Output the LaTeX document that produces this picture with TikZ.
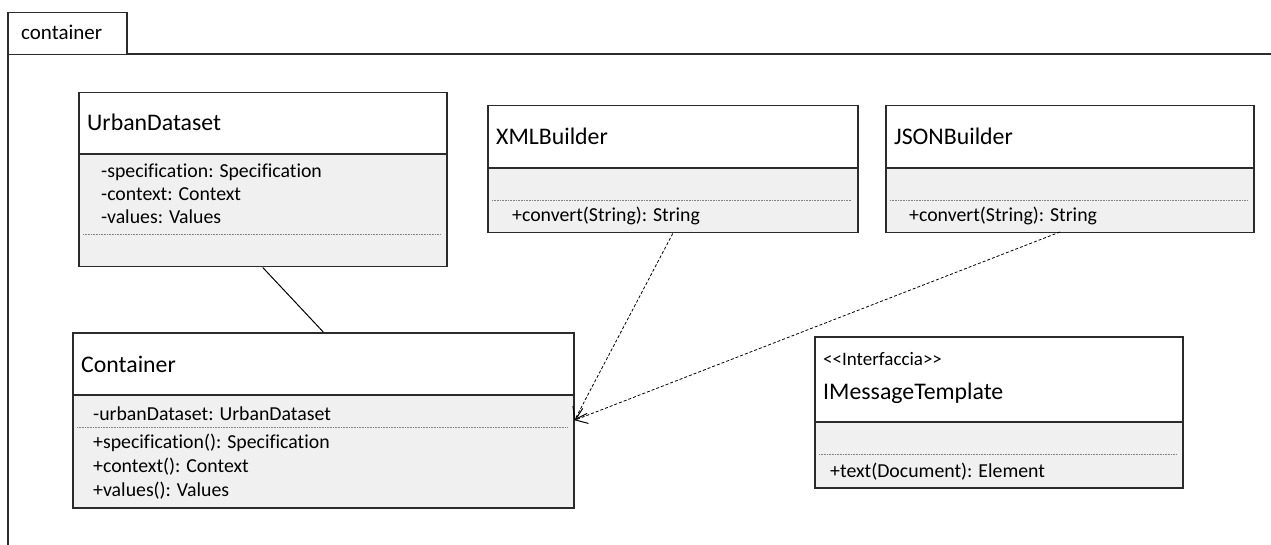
\documentclass[tikz,border=0pt]{standalone}
\usepackage{fontspec}
\setmainfont{Carlito}[Ligatures={NoCommon}]
\usetikzlibrary{arrows.meta}
\definecolor{boxline}{HTML}{2B2B2B}
\definecolor{compgray}{HTML}{F0F0F0}
\definecolor{sepgray}{HTML}{808080}
\tikzset{
  classbox/.style={draw=boxline, line width=1.5pt, inner sep=0pt, anchor=north west},
  compfill/.style={fill=compgray},
  divider/.style={draw=boxline, line width=1.5pt},
  sepline/.style={draw=sepgray, line width=0.8pt, dash pattern=on 1pt off 0.6pt},
  titletext/.style={anchor=base west, inner sep=0pt, font=\fontsize{23.8}{28}\selectfont},
  membertext/.style={anchor=base west, inner sep=0pt, font=\fontsize{19.8}{23}\selectfont},
  stereotext/.style={anchor=base west, inner sep=0pt, font=\fontsize{19}{22}\selectfont},
  tabtext/.style={anchor=base west, inner sep=0pt, font=\fontsize{21}{25}\selectfont},
  framebox/.style={draw=boxline, line width=1.5pt},
  assoc/.style={draw=black, line width=1pt},
  depend/.style={draw=black, line width=0.8pt, dash pattern=on 3pt off 2pt, -{Straight Barb[length=11pt,width=16pt,line width=1pt]}}
}
\begin{document}
\begin{tikzpicture}[x=1pt,y=-1pt]
\useasboundingbox (0,0) rectangle (1271,545);
\fill[white] (0,0) rectangle (1271,545);
% package frame
\draw[framebox] (8,545) -- (8,54) -- (1271,54);
\node[framebox, fill=white, anchor=north west, minimum width=119pt, minimum height=42pt, inner sep=0pt] (tab) at (7,12) {};
\node[tabtext] (tablabel) at (21,40) {container};

% UrbanDataset
\fill[compfill] (78,154) rectangle (446,266);
\node[classbox, minimum width=368pt, minimum height=174pt] (ud) at (78,92) {};
\draw[divider] (78,154) -- (446,154);
\node[titletext] (udtitle) at (87,131) {UrbanDataset};
\node[membertext] (uda1) at (101,178) {-specification: Specification};
\node[membertext] (uda2) at (101,201) {-context: Context};
\node[membertext] (uda3) at (101,224) {-values: Values};
\draw[sepline] (83,234) -- (440,234);

% XMLBuilder
\fill[compfill] (487,168) rectangle (857,232);
\node[classbox, minimum width=370pt, minimum height=127pt] (xml) at (487,105) {};
\draw[divider] (487,168) -- (857,168);
\node[titletext] (xmltitle) at (496,145) {XMLBuilder};
\draw[sepline] (492,200) -- (851,200);
\node[membertext] (xmlm1) at (512,222) {+convert(String): String};

% JSONBuilder
\fill[compfill] (885,168) rectangle (1253,232);
\node[classbox, minimum width=368pt, minimum height=127pt] (json) at (885,105) {};
\draw[divider] (885,168) -- (1253,168);
\node[titletext] (jsontitle) at (894,145) {JSONBuilder};
\draw[sepline] (890,200) -- (1248,200);
\node[membertext] (jsonm1) at (909,222) {+convert(String): String};
\coordinate (jsonout) at (1060,232);

% Container
\fill[compfill] (72,395) rectangle (573,507);
\node[classbox, minimum width=501pt, minimum height=175pt] (cont) at (72,332) {};
\draw[divider] (72,395) -- (573,395);
\node[titletext] (conttitle) at (81,372) {Container};
\node[membertext] (conta1) at (93,420) {-urbanDataset: UrbanDataset};
\draw[sepline] (77,427) -- (567,427);
\node[membertext] (contm1) at (93,448) {+specification(): Specification};
\node[membertext] (contm2) at (93,472) {+context(): Context};
\node[membertext] (contm3) at (93,496) {+values(): Values};

% IMessageTemplate
\fill[compfill] (814,422) rectangle (1182,487);
\node[classbox, minimum width=368pt, minimum height=151pt] (imt) at (814,336) {};
\draw[divider] (814,422) -- (1182,422);
\node[stereotext] (imtst) at (823,365) {{<}{<}Interfaccia{>}{>}};
\node[titletext] (imttitle) at (823,399) {IMessageTemplate};
\draw[sepline] (819,454) -- (1177,454);
\node[membertext] (imtm1) at (830,477) {+text(Document): Element};

% connectors
\draw[assoc] (ud.south) -- (cont.north);
\draw[depend] (xml.south) -- (cont.east);
\draw[depend] (jsonout) -- (cont.east);
\end{tikzpicture}
\end{document}
